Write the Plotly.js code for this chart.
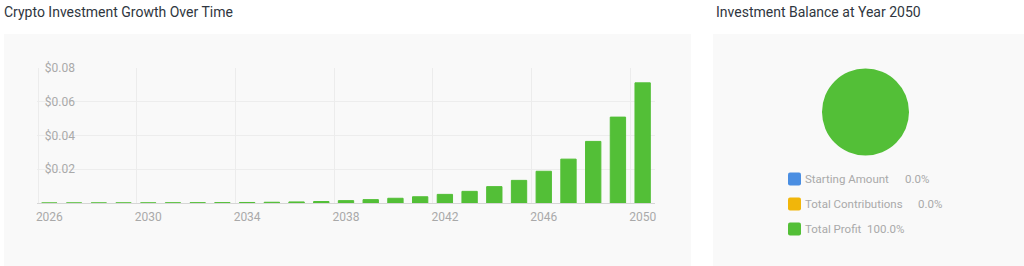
<!DOCTYPE html>
<html><head><meta charset="utf-8">
<script src="https://cdn.plot.ly/plotly-3.0.1.min.js"></script>
<style>html,body{margin:0;padding:0;background:#fff;}#chart{width:1024px;height:266px;}</style>
</head><body><div id="chart"></div>
<script>
// ---- data ----
const years = [2026,2027,2028,2029,2030,2031,2032,2033,2034,2035,2036,2037,2038,2039,2040,2041,2042,2043,2044,2045,2046,2047,2048,2049,2050];
const profit = [0.00002,0.00003,0.00004,0.00006,0.00008,0.00011,0.00016,0.00022,0.00031,0.00044,0.00062,0.00088,0.0014,0.0020,0.0028,0.0037,0.0051,0.0069,0.0097,0.0134,0.0188,0.0260,0.0365,0.0509,0.0712];
const tickYears = [2026,2030,2034,2038,2042,2046,2050];
const yTicks = [0.02,0.04,0.06,0.08];
const yTickText = ['$0.02','$0.04','$0.06','$0.08'];
const pieLabels = ['Starting Amount','Total Contributions','Total Profit'];
const piePercents = [0.0, 0.0, 100.0];
const pieColors = ['#4a8ee2','#f1b60a','#53bf37'];
const barTitle = 'Crypto Investment Growth Over Time';
const pieTitle = 'Investment Balance at Year 2050';

// ---- layout helpers ----
const W = 1024, H = 266;
const px = x => x / W;
const py = y => (H - y) / H;
const FONT = 'Roboto, "Open Sans", sans-serif';
const GRAY = '#a9a9a9';
const rowY = [179, 204, 229];
const pctX = [903, 916, 865];

const traces = [
  {
    type: 'bar', x: years, y: profit, xaxis: 'x', yaxis: 'y',
    marker: {color: pieColors[2], line: {color: pieColors[2], width: 1}},
    width: 0.62, hoverinfo: 'skip', showlegend: false
  },
  {
    type: 'pie', labels: pieLabels, values: piePercents,
    marker: {colors: pieColors, line: {width: 0}},
    textinfo: 'none', sort: false, direction: 'clockwise', showlegend: false,
    domain: {x: [px(822), px(909)], y: [py(156), py(68)]},
    hoverinfo: 'skip'
  },
  {type:'scatter', x:[years[0]], y:[0], xaxis:'x2', yaxis:'y', mode:'markers', marker:{opacity:0}, hoverinfo:'skip', showlegend:false}
];

const shapes = [
  {type:'rect', xref:'paper', yref:'paper', x0:px(4), x1:px(691), y0:0, y1:py(34), fillcolor:'#f9f9f9', line:{width:0}, layer:'below'},
  {type:'rect', xref:'paper', yref:'paper', x0:px(713), x1:1, y0:0, y1:py(34), fillcolor:'#f9f9f9', line:{width:0}, layer:'below'}
];
const annotations = [
  {text: pieTitle, xref:'paper', yref:'paper', x:px(714), y:py(12), xanchor:'left', yanchor:'middle', showarrow:false, font:{family:FONT, size:14, color:'#2f3640'}}
];
pieLabels.forEach((lab, i) => {
  shapes.push({type:'path', xref:'paper', yref:'paper', xsizemode:'pixel', ysizemode:'pixel',
    xanchor: px(794.5), yanchor: py(rowY[i]),
    path:'M-4.5,-6.5 H4.5 Q6.5,-6.5 6.5,-4.5 V4.5 Q6.5,6.5 4.5,6.5 H-4.5 Q-6.5,6.5 -6.5,4.5 V-4.5 Q-6.5,-6.5 -4.5,-6.5 Z',
    fillcolor: pieColors[i], line:{width:0}});
  annotations.push({text: lab, xref:'paper', yref:'paper', x:px(803), y:py(rowY[i]), xanchor:'left', yanchor:'middle', showarrow:false, font:{family:FONT, size:11.5, color:GRAY}});
  annotations.push({text: piePercents[i].toFixed(1) + '%', xref:'paper', yref:'paper', x:px(pctX[i]), y:py(rowY[i]), xanchor:'left', yanchor:'middle', showarrow:false, font:{family:FONT, size:11.5, color:GRAY}});
});

const layout = {
  width: W, height: H, autosize: false,
  margin: {l:0, r:0, t:0, b:0, pad:0},
  paper_bgcolor: '#ffffff', plot_bgcolor: 'rgba(0,0,0,0)',
  font: {family: FONT},
  title: {text: barTitle, x: px(4), xanchor:'left', xref:'paper', y: py(12), yref:'container', yanchor:'middle', font:{family:FONT, size:14, color:'#2f3640'}},
  xaxis: {
    domain: [px(37), px(655)], anchor:'y', range:[2025.5, 2050.5],
    tickmode:'array', tickvals: tickYears, ticktext: tickYears.map(String),
    showgrid:false, zeroline:false, showline:true, linecolor:'#d6d6d6', linewidth:1,
    ticks:'', tickfont:{family:FONT, size:12, color:GRAY}, ticklabelstandoff: 3
  },
  xaxis2: {
    overlaying:'x', anchor:'y', domain:[px(37), px(655)], range:[2025.45, 2050.5],
    tickmode:'array', tickvals: tickYears.map(y => y - 0.5), showticklabels:false,
    showgrid:true, gridcolor:'#ececec', gridwidth:1, zeroline:false, showline:false, ticks:''
  },
  yaxis: {
    domain: [py(203), py(68)], anchor:'free', position: px(77), range:[0, 0.08],
    tickmode:'array', tickvals: yTicks, ticktext: yTickText,
    ticks:'', showgrid:true, gridcolor:'#ededed',
    zeroline:false, showline:false, tickfont:{family:FONT, size:12, color:GRAY}, ticklabelstandoff: 2
  },
  shapes: shapes,
  annotations: annotations
};

Plotly.newPlot('chart', traces, layout, {displayModeBar:false, staticPlot:true});
</script>
</body></html>
